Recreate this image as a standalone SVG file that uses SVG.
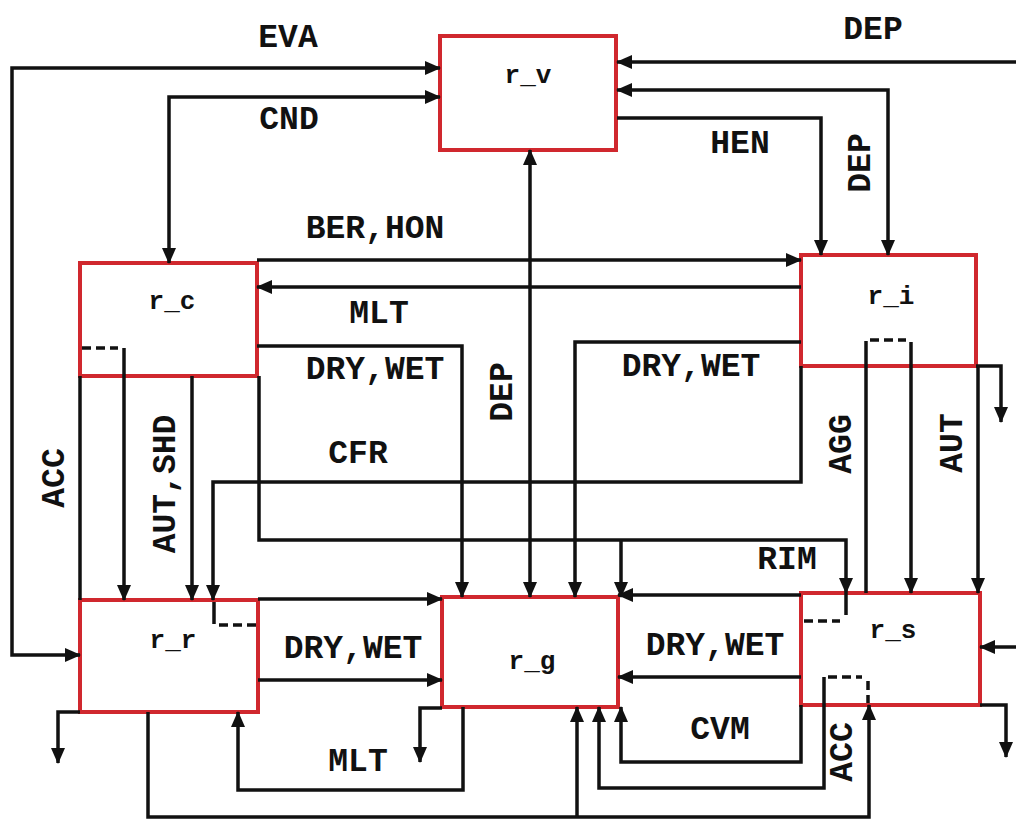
<svg xmlns="http://www.w3.org/2000/svg" width="1016" height="821" viewBox="0 0 1016 821">
<style>
.box{fill:#ffffff;stroke:#d0282e;stroke-width:4}
.bl{font-family:"Liberation Mono","Courier New",monospace;font-weight:bold;font-size:26px;fill:#111;text-anchor:middle;dominant-baseline:central}
.lb{font-family:"Liberation Mono","Courier New",monospace;font-weight:bold;font-size:33px;fill:#111;text-anchor:middle;dominant-baseline:central}
.c{fill:none;stroke:#111;stroke-width:3.5}
.a{marker-end:url(#ah)}
.b{marker-start:url(#ah);marker-end:url(#ah)}
.d{fill:none;stroke:#111;stroke-width:3.5;stroke-dasharray:9,5}
</style>
<defs>
<marker id="ah" markerUnits="userSpaceOnUse" markerWidth="16" markerHeight="14" viewBox="0 0 16 14" refX="15" refY="7" orient="auto-start-reverse">
<path d="M0,0 L16,7 L0,14 z" fill="#111"/>
</marker>
</defs>
<rect width="1016" height="821" fill="#ffffff"/>
<g id="r_v"><rect class="box" x="440" y="36" width="176" height="114"/><text class="bl" x="528" y="76">r_v</text></g>
<g id="r_c"><rect class="box" x="80" y="263" width="177" height="113"/><text class="bl" x="172" y="302">r_c</text></g>
<g id="r_i"><rect class="box" x="801" y="255" width="175" height="111"/><text class="bl" x="891" y="297">r_i</text></g>
<g id="r_r"><rect class="box" x="80" y="600" width="178" height="112"/><text class="bl" x="173" y="641">r_r</text></g>
<g id="r_g"><rect class="box" x="442" y="597" width="176" height="110"/><text class="bl" x="532" y="662">r_g</text></g>
<g id="r_s"><rect class="box" x="801" y="593" width="179" height="112"/><text class="bl" x="893" y="631">r_s</text></g>
<g id="connectors">
<path class="c b" d="M440,68 H12 V655 H80"/>
<path class="c b" d="M440,97 H169 V263"/>
<path class="c a" d="M1016,62 H617"/>
<path class="c b" d="M617,90 H888 V255"/>
<path class="c a" d="M617,118 H821 V255"/>
<path class="c a" d="M257,260 H801"/>
<path class="c a" d="M801,287 H257"/>
<path class="c a" d="M257,346 H462 V597"/>
<path class="c b" d="M530,150 V597"/>
<path class="c a" d="M801,342 H575 V597"/>
<path class="c a" d="M801,366 V482 H213 V600"/>
<path class="c a" d="M259,376 V540 H846 V593"/>
<path class="c a" d="M621,540 V597"/>
<path class="c" d="M80,376 V600"/>
<path class="c a" d="M124,348 V600"/>
<path class="c a" d="M192,376 V600"/>
<path class="d" d="M82,348 H118"/>
<path class="c" d="M214,602 V624"/>
<path class="d" d="M219,625 H256"/>
<path class="c a" d="M258,599 H442"/>
<path class="c a" d="M258,680 H442"/>
<path class="c a" d="M801,595 H618"/>
<path class="c a" d="M801,677 H618"/>
<path class="c a" d="M442,708 H420 V762"/>
<path class="c a" d="M463,707 V790 H238 V712"/>
<path class="c a" d="M80,712 H58 V763"/>
<path class="c a" d="M148,712 V817 H869 V705"/>
<path class="c a" d="M577,817 V707"/>
<path class="c a" d="M824,677 V788 H599 V707"/>
<path class="d" d="M828,677 H862"/>
<path class="d" d="M868,681 V703"/>
<path class="c a" d="M801,705 V762 H621 V707"/>
<path class="c a" d="M1016,647 H980"/>
<path class="c a" d="M980,705 H1006 V757"/>
<path class="c a" d="M976,366 H1001 V422"/>
<path class="c" d="M866,341 V593"/>
<path class="d" d="M870,340 H906"/>
<path class="c a" d="M911,342 V593"/>
<path class="c a" d="M978,366 V593"/>
<path class="c" d="M846,593 V615"/>
<path class="d" d="M804,621 H840"/>
</g>
<g id="labels">
<text class="lb" x="288" y="38">EVA</text>
<text class="lb" x="289" y="120">CND</text>
<text class="lb" x="873" y="30">DEP</text>
<text class="lb" transform="translate(861,163) rotate(-90)">DEP</text>
<text class="lb" x="740" y="144">HEN</text>
<text class="lb" x="375" y="229">BER,HON</text>
<text class="lb" x="379" y="314">MLT</text>
<text class="lb" x="375" y="370">DRY,WET</text>
<text class="lb" transform="translate(503,392) rotate(-90)">DEP</text>
<text class="lb" x="691" y="367">DRY,WET</text>
<text class="lb" x="358" y="454">CFR</text>
<text class="lb" x="787" y="560">RIM</text>
<text class="lb" transform="translate(55,478) rotate(-90)">ACC</text>
<text class="lb" transform="translate(166,484) rotate(-90)">AUT,SHD</text>
<text class="lb" transform="translate(842,444) rotate(-90)">AGG</text>
<text class="lb" transform="translate(953,443) rotate(-90)">AUT</text>
<text class="lb" x="353" y="649">DRY,WET</text>
<text class="lb" x="715" y="646">DRY,WET</text>
<text class="lb" x="358" y="762">MLT</text>
<text class="lb" x="720" y="730">CVM</text>
<text class="lb" transform="translate(843,752) rotate(-90)">ACC</text>
</g>
</svg>
